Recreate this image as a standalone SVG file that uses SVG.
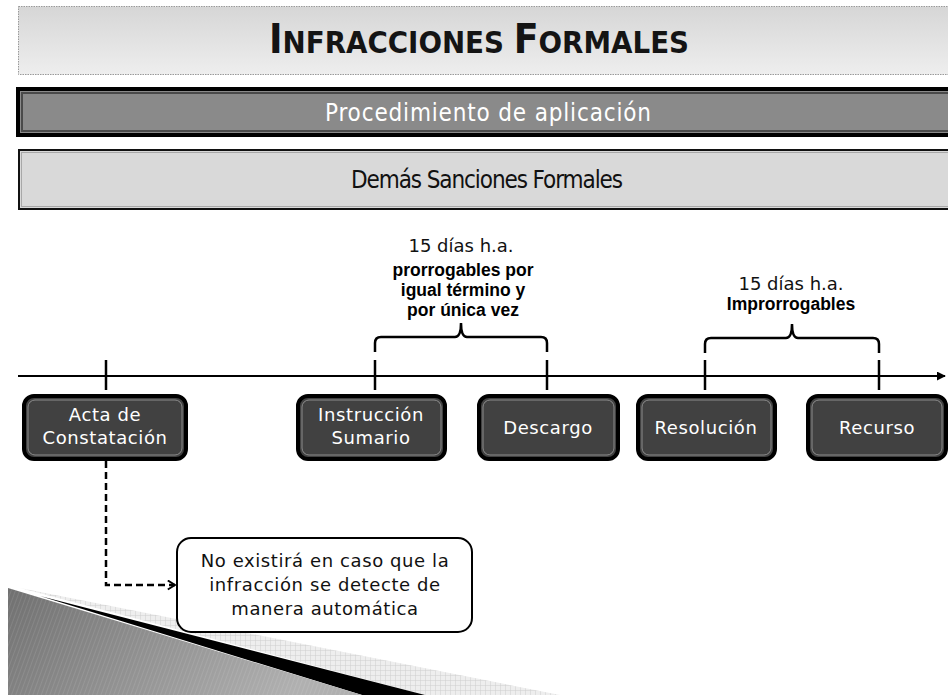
<svg xmlns="http://www.w3.org/2000/svg" width="948" height="695" viewBox="0 0 948 695">
<defs>
<linearGradient id="tg" x1="0" y1="0" x2="0" y2="1">
<stop offset="0" stop-color="#d6d6d6"/><stop offset="1" stop-color="#eeeeee"/>
</linearGradient>
<linearGradient id="wg" x1="0" y1="0" x2="1" y2="0.3">
<stop offset="0" stop-color="#707070"/><stop offset="1" stop-color="#b0b0b0"/>
</linearGradient>
<pattern id="stripes" width="4" height="4" patternUnits="userSpaceOnUse" patternTransform="rotate(20)">
<rect width="4" height="4" fill="none"/><line x1="0" y1="0" x2="0" y2="4" stroke="#ffffff" stroke-opacity="0.12" stroke-width="1.5"/>
</pattern>
<pattern id="checks" width="5" height="5" patternUnits="userSpaceOnUse">
<rect width="5" height="5" fill="#eeeeee"/><path d="M0,0H5M0,0V5" stroke="#cfcfcf" stroke-width="1"/>
</pattern>
<marker id="ah" viewBox="0 0 10 10" refX="9" refY="5" markerWidth="9" markerHeight="9" markerUnits="userSpaceOnUse" orient="auto">
<path d="M0,0 L10,5 L0,10 z" fill="#000"/>
</marker>
<marker id="oa" viewBox="0 0 10 12" refX="9" refY="6" markerWidth="9" markerHeight="11" markerUnits="userSpaceOnUse" orient="auto">
<path d="M1,1 L9,6 L1,11" fill="none" stroke="#000" stroke-width="2.2"/>
</marker>
</defs>
<style>
.hd{font-family:"DejaVu Sans Condensed","DejaVu Sans",sans-serif;font-stretch:condensed;text-anchor:middle}
.lbl{font-family:"DejaVu Sans",sans-serif;font-size:18px;letter-spacing:0.6px;fill:#fff;text-anchor:middle}
.tl{font-family:"DejaVu Sans",sans-serif;font-size:18px;fill:#111;text-anchor:middle}
.tb{font-family:"Liberation Sans",Arial,sans-serif;font-weight:bold;font-size:17.5px;fill:#000;text-anchor:middle}
.note{font-family:"DejaVu Sans",sans-serif;font-size:18px;letter-spacing:0.6px;fill:#111;text-anchor:middle}
.box{fill:#414141;stroke:#000;stroke-width:4}
.inner{fill:none;stroke:#8c8c8c;stroke-width:1}
.ln{fill:none;stroke:#000;stroke-width:2.5}
</style>

<g id="decoration">
<polygon points="20,588 560,695 425,695" fill="url(#checks)"/>
<polygon points="40,596 425,695 362,695" fill="#000"/>
<polygon points="8,588 362,695 8,695" fill="url(#wg)"/>
<polygon points="8,588 362,695 8,695" fill="url(#stripes)"/>
</g>

<g id="title">
<rect x="18.5" y="6.5" width="940" height="68" fill="url(#tg)" stroke="#999" stroke-width="1" stroke-dasharray="1.5 1"/>
<text class="hd" x="479" y="53" fill="#141414" font-weight="bold"><tspan font-size="40.5">I</tspan><tspan font-size="30.8">NFRACCIONES </tspan><tspan font-size="40.5">F</tspan><tspan font-size="30.8">ORMALES</tspan></text>
</g>

<g id="procedimiento">
<rect x="18" y="89" width="940" height="46" fill="#8a8a8a" stroke="#000" stroke-width="4"/>
<rect x="22" y="93" width="940" height="38" fill="none" stroke="#4a4a4a" stroke-width="2"/>
<text class="hd" x="488" y="121" font-size="24" fill="#fff" textLength="326">Procedimiento de aplicación</text>
</g>

<g id="demas">
<rect x="19" y="150" width="940" height="59" fill="#d9d9d9" stroke="#111" stroke-width="2"/>
<rect x="21.5" y="152.5" width="940" height="54" fill="none" stroke="#a8a8a8" stroke-width="1"/>
<text class="hd" x="487" y="188" font-size="24" fill="#111" textLength="272">Demás Sanciones Formales</text>
</g>

<g id="connectors">
<line x1="18" y1="376" x2="945" y2="376" stroke="#000" stroke-width="2" marker-end="url(#ah)"/>
<line class="ln" x1="106" y1="360" x2="106" y2="390"/>
<line class="ln" x1="375" y1="360" x2="375" y2="390"/>
<line class="ln" x1="547" y1="360" x2="547" y2="390"/>
<line class="ln" x1="705" y1="360" x2="705" y2="390"/>
<line class="ln" x1="879" y1="360" x2="879" y2="390"/>
<path class="ln" d="M375,352 V343 Q375,337 381,337 H455 Q461,337 461,323 Q461,337 467,337 H541 Q547,337 547,343 V352"/>
<path class="ln" d="M705,353 V344 Q705,338 711,338 H786 Q792,338 792,324 Q792,338 798,338 H873 Q879,338 879,344 V353"/>
<path d="M106,461 V585 H175" fill="none" stroke="#000" stroke-width="2.5" stroke-dasharray="7 4" marker-end="url(#oa)"/>
</g>

<g id="label1">
<text class="tl" x="461" y="252">15 días h.a.</text>
<text class="tb" x="463" y="276">prorrogables por</text>
<text class="tb" x="463" y="296">igual término y</text>
<text class="tb" x="463" y="316">por única vez</text>
</g>
<g id="label2">
<text class="tl" x="791" y="290">15 días h.a.</text>
<text class="tb" x="791" y="310">Improrrogables</text>
</g>

<g id="acta">
<rect class="box" x="24" y="396" width="162" height="63" rx="10"/>
<rect class="inner" x="28" y="400" width="154" height="55" rx="7"/>
<text class="lbl" x="105" y="421">Acta de</text>
<text class="lbl" x="105" y="444">Constatación</text>
</g>
<g id="instruccion">
<rect class="box" x="298" y="396" width="147" height="63" rx="10"/>
<rect class="inner" x="302" y="400" width="139" height="55" rx="7"/>
<text class="lbl" x="371" y="421">Instrucción</text>
<text class="lbl" x="371" y="444">Sumario</text>
</g>
<g id="descargo">
<rect class="box" x="479" y="396" width="139" height="63" rx="10"/>
<rect class="inner" x="483" y="400" width="131" height="55" rx="7"/>
<text class="lbl" x="548" y="434">Descargo</text>
</g>
<g id="resolucion">
<rect class="box" x="638" y="396" width="137" height="63" rx="10"/>
<rect class="inner" x="642" y="400" width="129" height="55" rx="7"/>
<text class="lbl" x="706" y="434">Resolución</text>
</g>
<g id="recurso">
<rect class="box" x="808" y="396" width="138" height="63" rx="10"/>
<rect class="inner" x="812" y="400" width="130" height="55" rx="7"/>
<text class="lbl" x="877" y="434">Recurso</text>
</g>

<g id="nota">
<rect x="177" y="538" width="295" height="94" rx="14" fill="#fff" stroke="#000" stroke-width="2"/>
<text class="note" x="325" y="567">No existirá en caso que la</text>
<text class="note" x="325" y="591">infracción se detecte de</text>
<text class="note" x="325" y="615">manera automática</text>
</g>
</svg>
